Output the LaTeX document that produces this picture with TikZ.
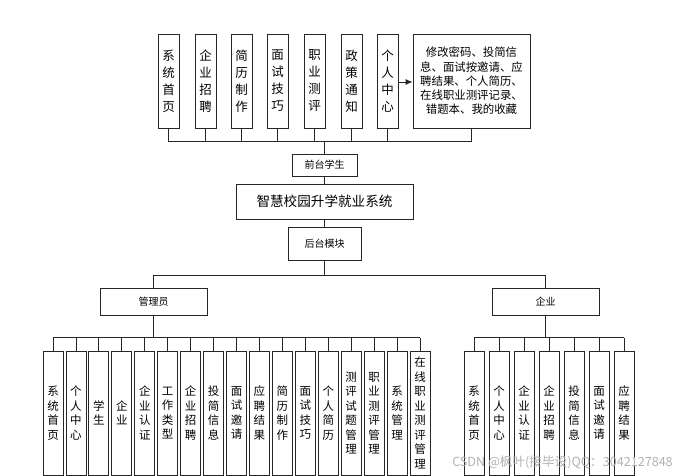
\documentclass[tikz,border=0pt]{standalone}
\usepackage{fontspec}
\setmainfont{Noto Sans CJK SC}
\usetikzlibrary{arrows.meta}
\tikzset{
  box/.style={draw=black!85, line width=0.8pt, fill=white, inner sep=0pt, align=center},
  vbox/.style={box, minimum width=21pt, minimum height=94pt, font=\fontsize{12.5}{17}\selectfont},
  lbox/.style={box, minimum width=20pt, minimum height=124pt, font=\fontsize{11.5}{14.5}\selectfont},
  hbox/.style={box, font=\fontsize{10}{12}\selectfont},
  conn/.style={draw=black!85, line width=0.8pt},
}
\begin{document}
\begin{tikzpicture}[x=1pt,y=-1pt]
\useasboundingbox (0,0) rectangle (688,476);
% top row
\node[vbox] (t1) at (168.5,81) {系\\统\\首\\页};
\node[vbox] (t2) at (205.5,81) {企\\业\\招\\聘};
\node[vbox] (t3) at (241.5,81) {简\\历\\制\\作};
\node[vbox] (t4) at (277.5,81) {面\\试\\技\\巧};
\node[vbox] (t5) at (314.5,81) {职\\业\\测\\评};
\node[vbox] (t6) at (351.5,81) {政\\策\\通\\知};
\node[vbox] (t7) at (387.5,81) {个\\人\\中\\心};
\node[box, minimum width=117pt, minimum height=94pt, font=\fontsize{11.4}{14.3}\selectfont] (t8) at (471.5,81)
  {修改密码、投简信\\息、面试按邀请、应\\聘结果、个人简历、\\在线职业测评记录、\\错题本、我的收藏};
\draw[conn, -{Latex[length=7pt,width=6pt]}] (t7.east |- 0,82) -- (t8.west |- 0,82);
% front
\node[hbox, minimum width=65pt, minimum height=22pt] (front) at (324.5,165) {前台学生};
\node[box, minimum width=177pt, minimum height=35pt, font=\fontsize{13.6}{16}\selectfont] (main) at (324.5,201.5) {智慧校园升学就业系统};
\node[hbox, minimum width=73pt, minimum height=33pt] (back) at (324.5,243.5) {后台模块};
\coordinate (tb) at (324.5,141);
\foreach \n in {t1,t2,t3,t4,t5,t6,t7,t8}{
  \draw[conn] (\n.south) -- (\n.south |- tb) -- (tb);
}
\draw[conn] (tb) -- (front.north);
\draw[conn] (front.south) -- (main.north);
\draw[conn] (main.south) -- (back.north);
% second level
\node[hbox, minimum width=107pt, minimum height=27pt] (admin) at (153.5,301.5) {管理员};
\node[hbox, minimum width=107pt, minimum height=27pt] (ent) at (545.5,301.5) {企业};
\coordinate (mb) at (324.5,275);
\draw[conn] (back.south) -- (mb);
\draw[conn] (admin.north) -- (admin.north |- mb) -- (ent.north |- mb) -- (ent.north);
% admin children
\coordinate (ab) at (153.5,337.5);
\draw[conn, line width=1.6pt] (admin.south) -- (ab);
\foreach \t [count=\i from 0] in {
  系\\统\\首\\页, 个\\人\\中\\心, 学\\生, 企\\业, 企\\业\\认\\证, 工\\作\\类\\型,
  企\\业\\招\\聘, 投\\简\\信\\息, 面\\试\\邀\\请, 应\\聘\\结\\果, 简\\历\\制\\作,
  面\\试\\技\\巧, 个\\人\\简\\历, 测\\评\\试\\题\\管\\理, 职\\业\\测\\评\\管\\理,
  系\\统\\管\\理, 在\\线\\职\\业\\测\\评\\管\\理}{
  \node[lbox] (a\i) at ({53+22.94*\i},413) {\t};
  \draw[conn] (a\i.north) -- (a\i.north |- ab);
}
\draw[conn] (a0.north |- ab) -- (a16.north |- ab);
% enterprise children
\coordinate (eb) at (545.5,337.5);
\draw[conn] (ent.south) -- (eb);
\foreach \t [count=\i from 0] in {
  系\\统\\首\\页, 个\\人\\中\\心, 企\\业\\认\\证, 企\\业\\招\\聘, 投\\简\\信\\息,
  面\\试\\邀\\请, 应\\聘\\结\\果}{
  \node[lbox] (e\i) at ({474+25*\i},413) {\t};
  \draw[conn] (e\i.north) -- (e\i.north |- eb);
}
\draw[conn] (e0.north |- eb) -- (e6.north |- eb);
% watermark
\node[font=\fontsize{12.6}{14}\selectfont, text=black!30, inner sep=0pt] (wm) at (562.5,462) {CSDN @枫叶(接毕设)QQ：3042127848};
\end{tikzpicture}
\end{document}
